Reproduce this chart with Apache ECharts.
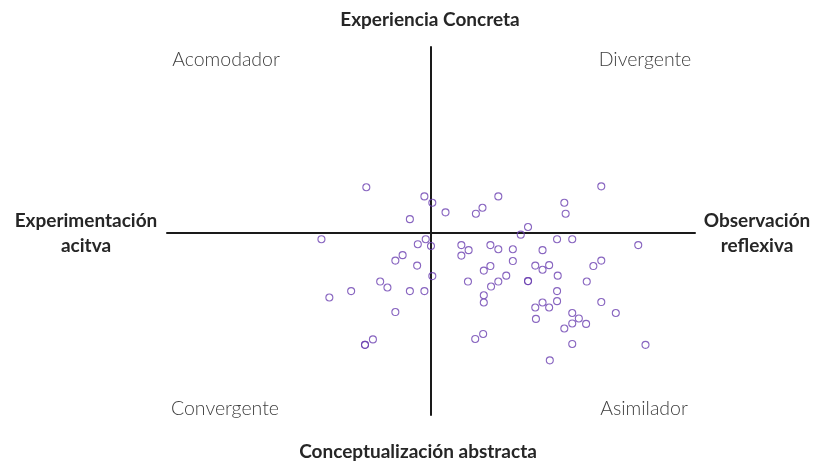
<!DOCTYPE html>
<html>
<head>
<meta charset="utf-8">
<script src="https://cdn.jsdelivr.net/npm/echarts@6/dist/echarts.min.js"></script>
<style>html,body{margin:0;padding:0;background:#fff}#c{width:815px;height:466px}</style>
</head>
<body>
<div id="c"></div>
<script>
// Points: x = Experimentación activa (−) ↔ Observación reflexiva (+); y = Conceptualización abstracta (−) ↔ Experiencia Concreta (+)
const xValues = [-4.9,-0.5,0.1,-1.6,1.1,12.9,5.1,3.9,3.4,10.1,10.2,7.35,6.8,
  -8.3,-0.4,-1.0,0.0,-2.15,-2.7,-1.05,0.1,-3.85,-3.3,-6.05,-7.7,-1.6,-0.5,-2.7,-4.4,-5.0,-5.0,
  2.3,2.85,2.3,9.55,10.7,15.7,4.5,5.1,6.2,8.45,6.2,12.9,12.3,4.5,4.0,7.9,8.45,8.95,
  2.8,4.55,5.1,5.7,7.35,7.35,9.6,11.8,4.0,4.0,9.55,7.9,8.45,8.95,9.55,12.9,14.0,10.7,
  11.2,10.7,11.75,10.1,7.95,3.35,3.95,10.7,16.25,9.0];
const yValues = [5.0,4.0,3.3,1.5,2.25,5.1,4.0,2.75,2.1,3.3,2.1,0.64,-0.2,
  -0.7,-0.7,-1.25,-1.45,-2.45,-3.05,-3.6,-4.75,-5.35,-6.0,-6.4,-7.1,-6.4,-6.4,-8.7,-11.7,-12.3,-12.3,
  -1.35,-1.9,-2.5,-0.7,-0.7,-1.35,-1.35,-1.8,-1.8,-1.9,-3.1,-3.05,-3.65,-3.65,-4.15,-3.6,-4.05,-3.55,
  -5.35,-5.9,-5.35,-4.7,-5.3,-5.3,-4.7,-5.35,-6.85,-7.65,-6.4,-8.2,-7.65,-8.2,-7.5,-7.6,-8.8,-8.8,
  -9.4,-9.95,-10.0,-10.5,-9.45,-11.65,-11.1,-12.2,-12.3,-14.0];
const quadrantLabels = ['Acomodador','Divergente','Convergente','Asimilador'];
const axisTitles = ['Experiencia Concreta','Conceptualización abstracta','Experimentación\nacitva','Observación\nreflexiva'];

const points = xValues.map((x,i)=>[x,yValues[i]]);
const chart = echarts.init(document.getElementById('c'));
const titleStyle = {fontFamily:'Lato', fontWeight:'bold', fontSize:19, fill:'#262626', align:'center', verticalAlign:'middle', lineHeight:25};
const quadStyle = {fontFamily:'Lato', fontWeight:300, fontSize:19.5, fill:'#404040', align:'center', verticalAlign:'middle'};
const txt = (text, x, y, st) => ({type:'text', x:x, y:y, style:Object.assign({text:text}, st)});
chart.setOption({
  animation:false,
  grid:{left:167, right:120, top:47, bottom:51},
  xAxis:{type:'value', min:-20, max:20, axisLine:{onZero:true, lineStyle:{color:'#1a1a1a', width:2}},
    axisTick:{show:false}, axisLabel:{show:false}, splitLine:{show:false}},
  yAxis:{type:'value', min:-20, max:20.4, axisLine:{show:true, onZero:true, lineStyle:{color:'#1a1a1a', width:2}},
    axisTick:{show:false}, axisLabel:{show:false}, splitLine:{show:false}},
  series:[{type:'scatter', data:points, symbol:'circle', symbolSize:7,
    itemStyle:{color:'rgba(255,255,255,0)', borderColor:'#6a3fb0', borderWidth:1.1}}],
  graphic:[
    txt(axisTitles[0], 430, 20, titleStyle),
    txt(axisTitles[1], 418, 452, titleStyle),
    txt(axisTitles[2], 86, 233, titleStyle),
    txt(axisTitles[3], 757, 233, titleStyle),
    txt(quadrantLabels[0], 226, 60, quadStyle),
    txt(quadrantLabels[1], 645, 60, quadStyle),
    txt(quadrantLabels[2], 225, 409, quadStyle),
    txt(quadrantLabels[3], 644, 409, quadStyle)
  ]
});
</script>
</body>
</html>
